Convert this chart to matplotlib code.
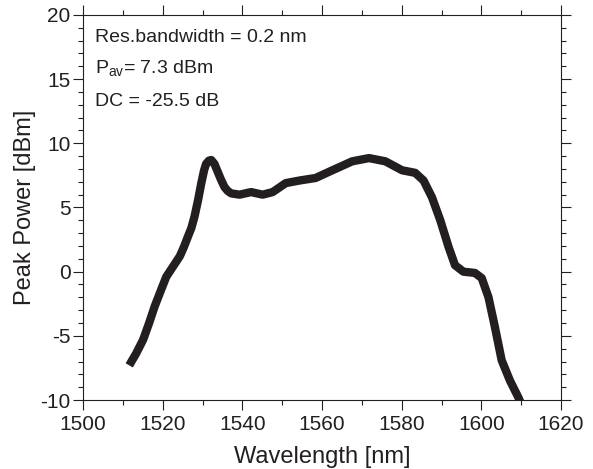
import matplotlib
matplotlib.use("Agg")
import matplotlib.pyplot as plt
from matplotlib.ticker import MultipleLocator

plt.rcParams['font.family'] = ['Liberation Sans', 'DejaVu Sans']
plt.rcParams['mathtext.fontset'] = 'custom'
plt.rcParams['mathtext.rm'] = 'Liberation Sans'
plt.rcParams['axes.unicode_minus'] = False

# spectrum
wavelength = [1511.6, 1513.3, 1515.1, 1516.6, 1518.0, 1519.5, 1520.9, 1522.6, 1524.3,
              1525.3, 1526.3, 1527.2, 1528.0, 1528.9, 1529.7, 1530.4, 1530.9, 1531.6,
              1532.2, 1533.0, 1533.8, 1534.6, 1535.5, 1536.3, 1537.2, 1539.3, 1542.2,
              1545.1, 1547.6, 1550.9, 1554.3, 1558.4, 1562.6, 1567.6, 1571.8, 1575.9,
              1580.1, 1583.4, 1585.5, 1587.6, 1589.7, 1591.8, 1593.4, 1595.5, 1598.4,
              1600.1, 1601.8, 1603.4, 1605.1, 1607.2, 1609.3, 1610.4]
power = [-7.3, -6.4, -5.3, -4.0, -2.7, -1.5, -0.4, 0.4, 1.2,
         1.9, 2.7, 3.4, 4.3, 5.6, 6.9, 7.9, 8.4, 8.65,
         8.7, 8.4, 7.8, 7.2, 6.6, 6.3, 6.1, 6.0, 6.2,
         6.0, 6.2, 6.9, 7.1, 7.3, 7.9, 8.6, 8.85, 8.6,
         7.9, 7.7, 7.1, 5.8, 4.0, 1.9, 0.5, 0.0, -0.1,
         -0.5, -2.0, -4.3, -6.9, -8.5, -9.8, -10.6]

annotations = ['Res.bandwidth = 0.2 nm', r'P$_{\mathrm{av}}$= 7.3 dBm', 'DC = -25.5 dB']

ink = '#231f20'
fig = plt.figure(figsize=(5.93, 4.69), dpi=100)
ax = fig.add_axes([83 / 593, 1 - 400 / 469, (561 - 83) / 593, (400 - 15) / 469])

ax.plot(wavelength, power, color=ink, lw=6, solid_capstyle='butt')

ax.set_xlim(1500, 1620)
ax.set_ylim(-10, 20)
ax.xaxis.set_major_locator(MultipleLocator(20))
ax.xaxis.set_minor_locator(MultipleLocator(10))
ax.yaxis.set_major_locator(MultipleLocator(5))
ax.yaxis.set_minor_locator(MultipleLocator(1))
ax.tick_params(which='both', direction='out', top=True, right=True,
               labelsize=15, colors=ink, width=0.8, pad=2)
ax.tick_params(axis='x', which='major', pad=4)
ax.tick_params(which='major', length=7)
ax.tick_params(which='minor', length=3.5)
for s in ax.spines.values():
    s.set_linewidth(0.8)
    s.set_color(ink)

ax.set_xlabel('Wavelength [nm]', fontsize=17, color=ink)
ax.set_ylabel('Peak Power [dBm]', fontsize=17, color=ink)
ax.xaxis.set_label_coords(0.5, -(457 - 400) / 385, transform=ax.transAxes)
ax.yaxis.set_label_coords(-(83 - 25) / 478, 0.5, transform=ax.transAxes)
ax.xaxis.label.set_va('center')
ax.yaxis.label.set_va('center')

for i, t in enumerate(annotations):
    ax.text(0.025, 0.942 - i * 0.083, t, transform=ax.transAxes, fontsize=14,
            color=ink, va='center', ha='left')

fig.savefig('out.png', dpi=100)
